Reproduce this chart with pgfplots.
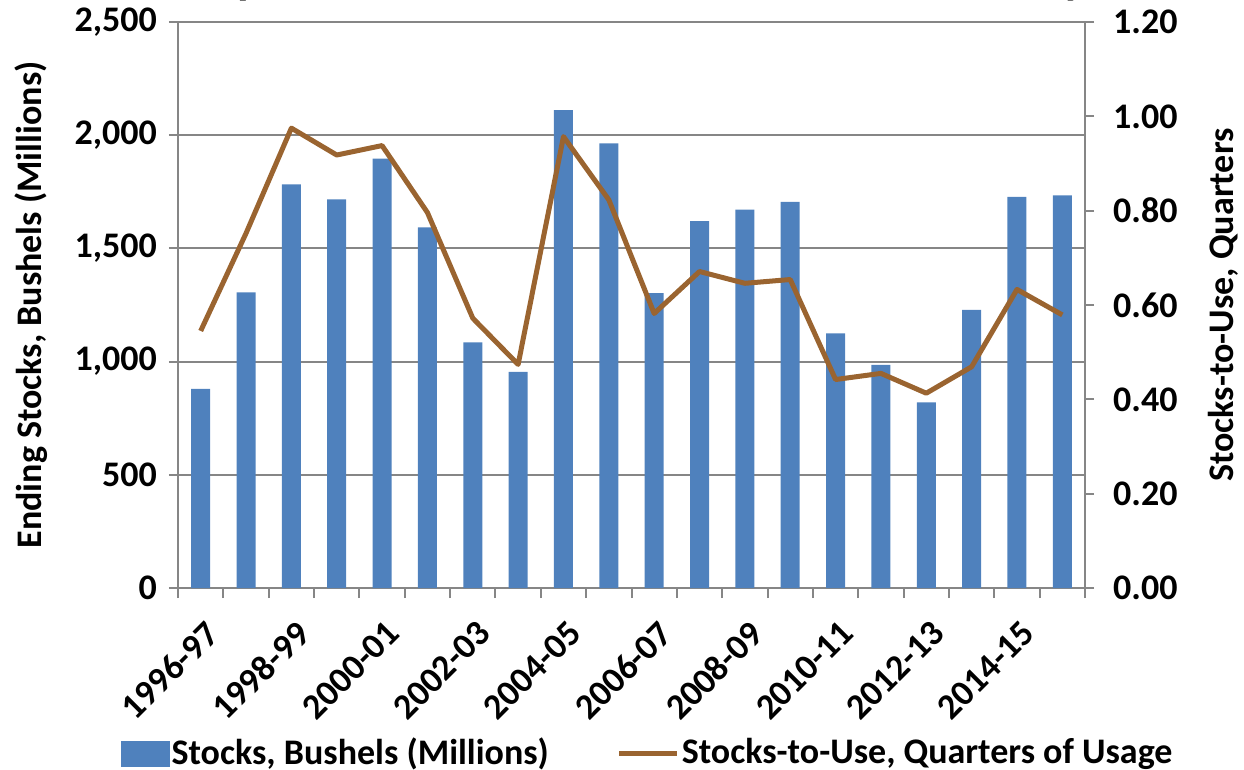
\documentclass[border=0pt]{standalone}
\usepackage{pgfplots}
\pgfplotsset{compat=1.18}
\usepackage{fontspec}
\setmainfont{Carlito}
\definecolor{barblue}{RGB}{79,129,189}
\definecolor{linebrown}{RGB}{154,100,48}
\definecolor{gridgray}{RGB}{134,134,134}
\begin{document}
\fontsize{36}{43}\selectfont\bfseries
\begin{tikzpicture}[font=\fontsize{36}{43}\selectfont\bfseries]
\pgfplotsset{
  common/.style={
    at={(0,0)}, anchor=south west,
    scale only axis, width=907pt, height=566pt,
    xmin=-0.5, xmax=19.5,
    /pgf/number format/assume math mode=true,
    tick label style={font=\fontsize{36}{43}\selectfont\bfseries},
    label style={font=\fontsize{36}{43}\selectfont\bfseries},
    tick align=outside,
    major tick length=9pt, minor tick length=10pt,
    tick style={gridgray, line width=2pt},
    axis line style={gridgray, line width=2pt, -},
  }
}
\begin{axis}[common,
  ymin=0, ymax=2500,
  axis y line*=left, axis x line*=bottom,
  ytick={0,500,1000,1500,2000,2500},
  yticklabel style={/pgf/number format/1000 sep={,}},
  ymajorgrids, grid style={gridgray, line width=2pt},
  xtick={0,2,4,6,8,10,12,14,16,18},
  xticklabels={1996-97,1998-99,2000-01,2002-03,2004-05,2006-07,2008-09,2010-11,2012-13,2014-15},
  major x tick style={draw=none},
  minor xtick={-0.5,0.5,...,19.5},
  xticklabel style={yshift=-19pt, xshift=3pt, rotate=45, anchor=north east, inner sep=2pt},
  ylabel={Ending Stocks, Bushels (Millions)},
  ylabel style={at={(axis description cs:-0.162,0.5)}, anchor=center, rotate=0},
]
\addplot[ybar, bar width=19pt, fill=barblue, draw=none] coordinates {
(0,880) (1,1306) (2,1783) (3,1717) (4,1896) (5,1593) (6,1085) (7,955) (8,2111) (9,1964)
(10,1302) (11,1621) (12,1671) (13,1705) (14,1125) (15,985) (16,820) (17,1229) (18,1728) (19,1734)
};
\end{axis}
\begin{axis}[common,
  ymin=0, ymax=1.2,
  axis y line*=right, axis x line=none,
  ytick={0,0.2,0.4,0.6,0.8,1.0,1.2},
  yticklabel style={xshift=7pt, /pgf/number format/.cd, fixed, fixed zerofill, precision=2},
  ylabel={Stocks-to-Use, Quarters},
  ylabel style={at={(axis description cs:1.152,0.5)}, anchor=center, rotate=0},
  legend columns=2,
  legend style={at={(axis description cs:0.518,-0.293)}, anchor=center, draw=none, fill=none,
    font=\fontsize{36}{43}\selectfont\bfseries,
    /tikz/every even column/.append style={column sep=66pt}},
]
\addlegendimage{legend image code/.code={\fill[barblue] (0pt,-12pt) rectangle (48pt,13pt);}}
\addlegendentry{Stocks, Bushels (Millions)}
\addplot[linebrown, line width=5pt, line join=round,
  legend image code/.code={\draw[linebrown, line width=5pt] (0pt,0pt) -- (58pt,0pt);}] coordinates {
(0,0.545) (1,0.752) (2,0.975) (3,0.918) (4,0.938) (5,0.796) (6,0.572) (7,0.474) (8,0.957) (9,0.823)
(10,0.582) (11,0.671) (12,0.646) (13,0.654) (14,0.442) (15,0.455) (16,0.413) (17,0.469) (18,0.633) (19,0.579)
};
\addlegendentry{Stocks-to-Use, Quarters of Usage}
\end{axis}
\node[anchor=base, font=\fontsize{48}{56}\selectfont\bfseries] at (72pt,594pt) {p};
\node[anchor=base, font=\fontsize{48}{56}\selectfont\bfseries] at (897pt,594pt) {y};
\pgfresetboundingbox
\useasboundingbox (-178pt,-181pt) rectangle (1066pt,588pt);
\end{tikzpicture}
\end{document}
